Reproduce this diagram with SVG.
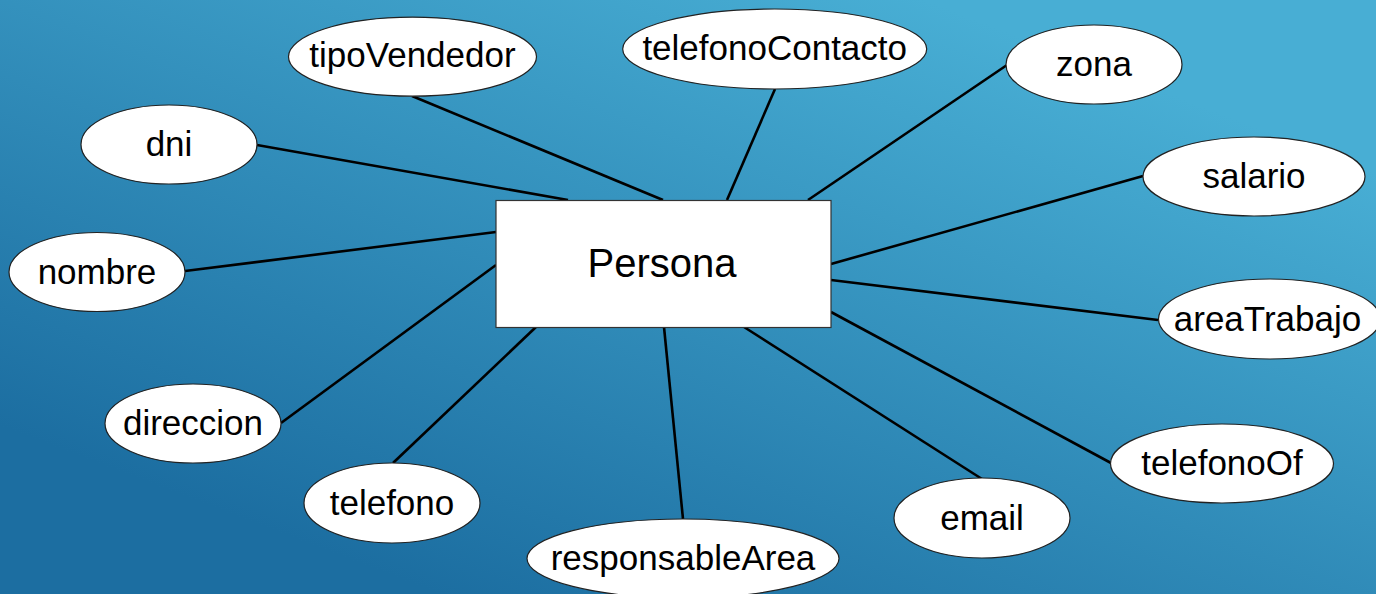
<svg xmlns="http://www.w3.org/2000/svg" width="1376" height="594" viewBox="0 0 1376 594">
<defs>
<linearGradient id="bg" gradientUnits="userSpaceOnUse" x1="820" y1="-40" x2="560" y2="640">
<stop offset="0" stop-color="#48aed4"/>
<stop offset="1" stop-color="#1c6ea1"/>
</linearGradient>
</defs>
<style>
.attr ellipse{fill:#fff;stroke:#222;stroke-width:1.2}
.attr text,.ent text{font-family:"Liberation Sans",Arial,sans-serif;font-size:35px;fill:#000;text-anchor:middle}
.ent rect{fill:#fff;stroke:#333;stroke-width:1.2}
.ent text{font-size:40px}
#connectors line{stroke:#000;stroke-width:2.6}
</style>
<rect x="0" y="0" width="1376" height="594" fill="url(#bg)"/>
<g id="connectors">
<line x1="257" y1="145" x2="568" y2="200"/>
<line x1="412" y1="96" x2="663" y2="200"/>
<line x1="775" y1="89" x2="727" y2="200"/>
<line x1="1007" y1="65" x2="808" y2="200"/>
<line x1="1143" y1="176" x2="831" y2="264"/>
<line x1="831" y1="280" x2="1158" y2="320"/>
<line x1="831" y1="312" x2="1111" y2="463"/>
<line x1="744" y1="327" x2="982" y2="479"/>
<line x1="664" y1="327" x2="683" y2="519"/>
<line x1="536" y1="327" x2="393" y2="463"/>
<line x1="496" y1="265" x2="281" y2="423"/>
<line x1="185" y1="271" x2="496" y2="232"/>
</g>
<g id="persona" class="ent">
<rect x="496" y="200.5" width="335" height="127"/>
<text x="662" y="277">Persona</text>
</g>
<g id="tipoVendedor" class="attr">
<ellipse cx="412.5" cy="56.7" rx="124" ry="39.5"/>
<text x="412.5" y="67">tipoVendedor</text>
</g>
<g id="telefonoContacto" class="attr">
<ellipse cx="774.7" cy="49" rx="152" ry="40"/>
<text x="774.7" y="60">telefonoContacto</text>
</g>
<g id="zona" class="attr">
<ellipse cx="1094" cy="64.5" rx="88" ry="39.5"/>
<text x="1094" y="76">zona</text>
</g>
<g id="dni" class="attr">
<ellipse cx="169" cy="144.5" rx="88" ry="39.5"/>
<text x="169" y="156">dni</text>
</g>
<g id="salario" class="attr">
<ellipse cx="1254" cy="176.5" rx="111" ry="39.5"/>
<text x="1254" y="188">salario</text>
</g>
<g id="nombre" class="attr">
<ellipse cx="97" cy="272" rx="88" ry="39.5"/>
<text x="97" y="283.5">nombre</text>
</g>
<g id="areaTrabajo" class="attr">
<ellipse cx="1269.5" cy="319" rx="111" ry="40"/>
<text x="1267.5" y="330.5">areaTrabajo</text>
</g>
<g id="direccion" class="attr">
<ellipse cx="193" cy="423.5" rx="88" ry="39.5"/>
<text x="193" y="435">direccion</text>
</g>
<g id="telefonoOf" class="attr">
<ellipse cx="1222" cy="463.5" rx="111.5" ry="39.5"/>
<text x="1222" y="475">telefonoOf</text>
</g>
<g id="telefono" class="attr">
<ellipse cx="392" cy="503" rx="88" ry="40"/>
<text x="392" y="514.5">telefono</text>
</g>
<g id="email" class="attr">
<ellipse cx="982" cy="518" rx="88" ry="40"/>
<text x="982" y="529.5">email</text>
</g>
<g id="responsableArea" class="attr">
<ellipse cx="683" cy="558.5" rx="156" ry="39.5"/>
<text x="683" y="570">responsableArea</text>
</g>
</svg>
